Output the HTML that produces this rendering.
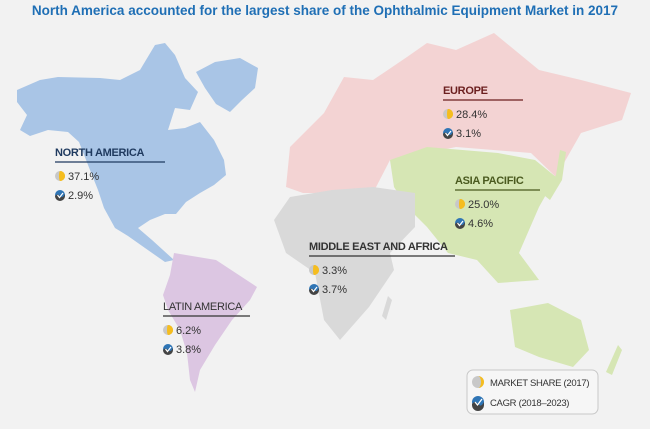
<!DOCTYPE html>
<html><head><meta charset="utf-8"><style>
body{margin:0;width:650px;height:429px;background:#f2f2f2;font-family:"Liberation Sans",sans-serif;overflow:hidden}
#title{position:absolute;left:0;top:3px;width:650px;text-align:center;color:#1f6fb5;font-weight:bold;font-size:13.5px}
svg{position:absolute;left:0;top:0}
</style></head><body>
<div id="title">North America accounted for the largest share of the Ophthalmic Equipment Market in 2017</div>
<svg id="map" width="650" height="429">
<rect x="0" y="22" width="650" height="407" fill="#f2f2f2"/>
<polygon fill="#a9c5e6" points="17,90 40,80 58,77 100,78 120,80 140,70 155,45 165,43 175,55 185,78 198,92 190,110 175,108 168,130 185,128 200,122 214,140 224,160 226,175 214,185 200,193 186,202 176,214 165,214 150,220 138,228 152,240 174,260 165,262 145,248 128,236 115,228 104,208 98,190 90,170 79,142 68,132 48,130 30,136 20,130 27,115 17,102"/>
<polygon fill="#a9c5e6" points="196,72 215,62 240,58 258,68 255,88 242,100 230,112 216,104 205,88"/>
<polygon fill="#dcc6e2" points="174,253 216,260 257,287 250,300 232,320 215,345 200,370 195,392 190,380 187,353 180,330 168,310 163,295 170,275"/>
<polygon fill="#f3d3d3" points="286,187 290,147 324,113 344,77 373,80 407,57 427,43 456,50 494,33 539,70 581,80 631,93 622,120 581,133 556,177 531,153 456,147 390,160 373,193 332,193 303,193"/>
<polygon fill="#d6e6b4" points="390,160 427,147 498,153 535,160 556,177 539,207 519,253 539,280 498,283 477,260 448,253 427,227 407,207 394,187"/>
<polygon fill="#d6e6b4" points="560,150 566,152 562,180 550,200 545,196 556,175"/>
<polygon fill="#d6e6b4" points="510,310 548,303 581,320 589,350 573,367 539,357 515,347"/>
<polygon fill="#d6e6b4" points="618,345 622,350 612,375 606,372"/>
<polygon fill="#d9d9d9" points="274,220 290,197 332,190 373,187 415,193 415,227 390,253 394,270 369,307 340,340 324,320 315,273 286,253"/>
<polygon fill="#d9d9d9" points="388,296 392,300 386,320 382,316"/>
<g id="labels"></g>
<g>
<rect x="467" y="370" width="131" height="44" rx="6" fill="#f6f6f6" stroke="#c8c8c8"/>
<circle cx="478" cy="382" r="6" fill="#c8c8c8"/><path d="M478,376 a6,6 0 0 1 0,12 a3,6 0 0 0 0,-12z" fill="#f5bd1f"/>
<text x="490" y="386" font-size="9.5" fill="#333" letter-spacing="-0.3">MARKET SHARE (2017)</text>
<circle cx="478" cy="402" r="6" fill="#2f75b5"/><path d="M472,404 q3,-4 6,0 t6,-2 v3 a6,6 0 0 1 -12,0z" fill="#444"/>
<polyline points="475,402 477.5,405 482,399" fill="none" stroke="#fff" stroke-width="1.3"/>
<text x="490" y="406" font-size="9.5" fill="#333" letter-spacing="-0.3">CAGR (2018–2023)</text>
</g>
</svg>
<script>
const regions=["NORTH AMERICA","EUROPE","ASIA PACIFIC","MIDDLE EAST AND AFRICA","LATIN AMERICA"];
const shareValues=[37.1,28.4,25.0,3.3,6.2];
const cagrValues=[2.9,3.1,4.6,3.7,3.8];
const anchorX=[55,443,455,309,163];
const anchorY=[152,90,180,246,306];
const ruleW=[110,80,85,146,87];
const colors=["#1f3a5f","#6b1f1f","#4a5a1f","#333333","#333333"];
const g=document.getElementById('labels');const NS="http://www.w3.org/2000/svg";
function mk(t,a){const e=document.createElementNS(NS,t);for(const k in a)e.setAttribute(k,a[k]);return e;}
regions.forEach((r,i)=>{
 const x=anchorX[i],y=anchorY[i];
 const grp=mk('g',{});
 
 
 const t=mk('text',{x:x,y:y+4,'font-size':'11','font-weight':i==4?'normal':'bold',fill:colors[i],'letter-spacing':'-0.3'});t.textContent=r;grp.appendChild(t);
 grp.appendChild(mk('line',{x1:x,y1:y+10,x2:x+ruleW[i],y2:y+10,stroke:colors[i],'stroke-width':'1.2'}));
 const sy=y+24,cy=y+43;
 grp.appendChild(mk('circle',{cx:x+5,cy:sy,r:5,fill:'#c8c8c8'}));
 grp.appendChild(mk('path',{d:`M${x+5},${sy-5} a5,5 0 0 1 0,10 a2,5 0 0 0 0,-10z`,fill:'#f5bd1f'}));
 grp.appendChild(mk('path',{d:`M${x+5},${sy-5} a5,5 0 0 1 0,10 a1,5 0 0 1 0,-10z`,fill:'#f5bd1f'}));
 const s=mk('text',{x:x+13,y:sy+4,'font-size':'11',fill:'#333'});s.textContent=shareValues[i].toFixed(1)+'%';grp.appendChild(s);
 grp.appendChild(mk('circle',{cx:x+5,cy:cy,r:5,fill:'#2f75b5'}));
 grp.appendChild(mk('path',{d:`M${x},${cy+1} q2.5,-3 5,0 t5,-2 v2 a5,5 0 0 1 -10,0z`,fill:'#444'}));
 grp.appendChild(mk('polyline',{points:`${x+2.5},${cy} ${x+4.5},${cy+2.5} ${x+8},${cy-2}`,fill:'none',stroke:'#fff','stroke-width':'1.2'}));
 const c=mk('text',{x:x+13,y:cy+4,'font-size':'11',fill:'#333'});c.textContent=cagrValues[i].toFixed(1)+'%';grp.appendChild(c);
 g.appendChild(grp);
});
</script>
</body></html>
